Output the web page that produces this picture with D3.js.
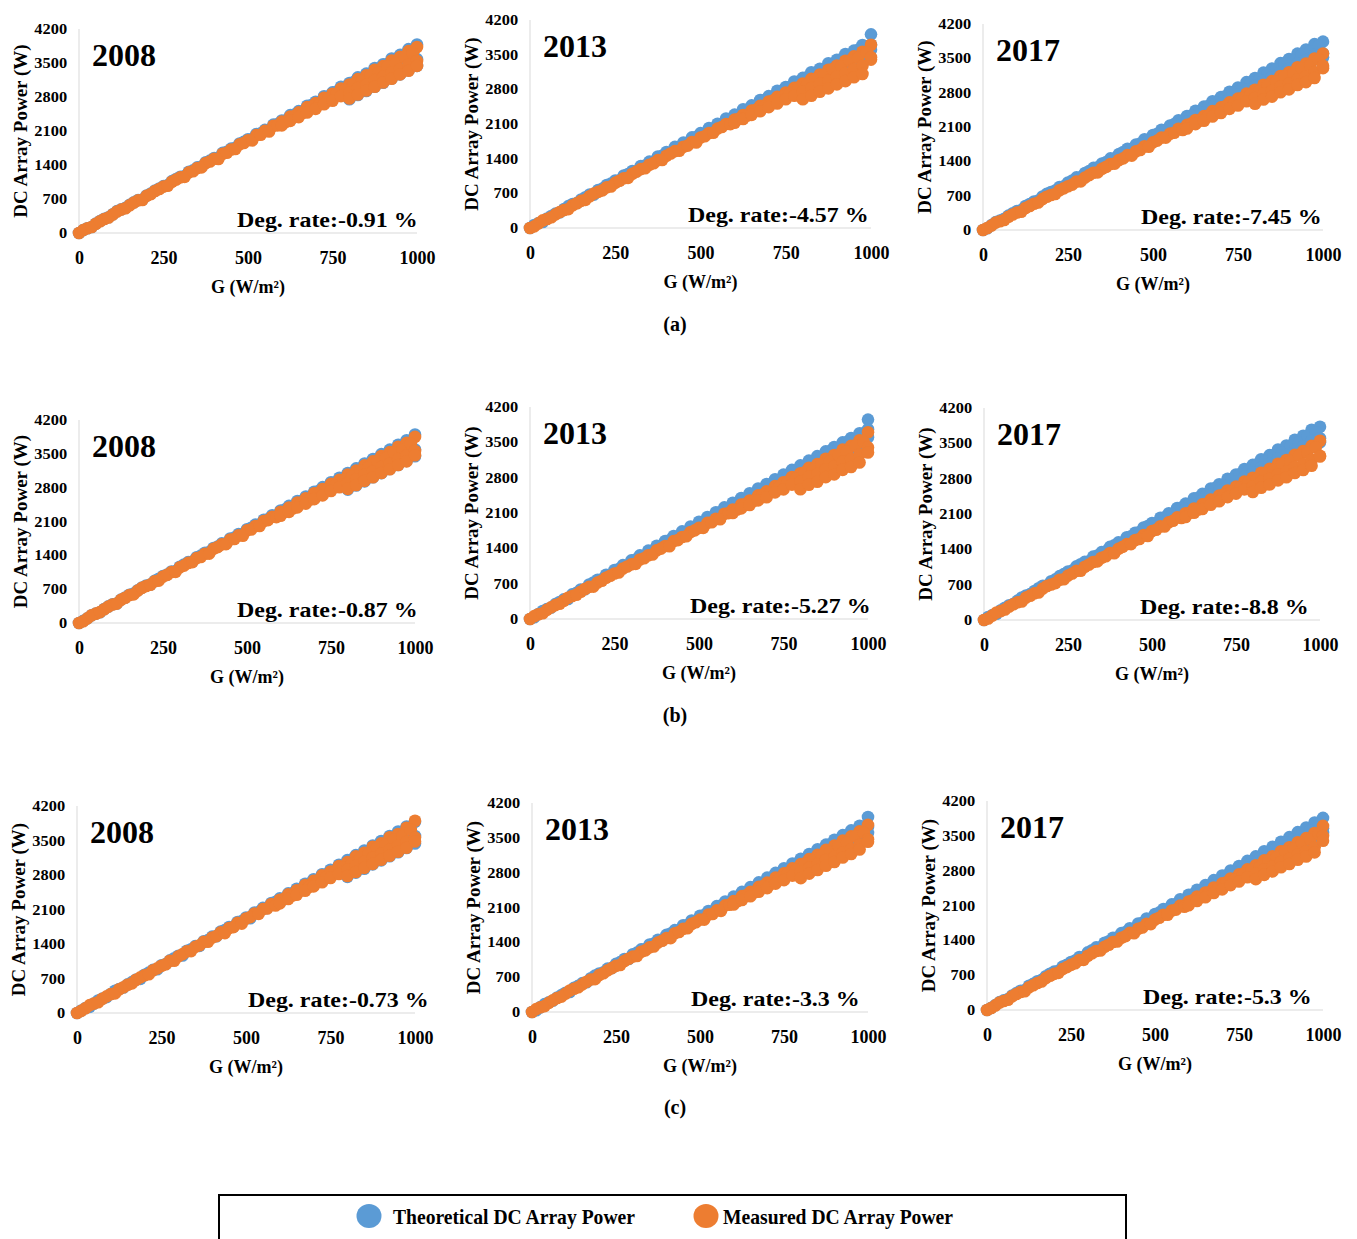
<!DOCTYPE html>
<html>
<head>
<meta charset="utf-8">
<script src="https://cdn.jsdelivr.net/npm/d3@7"></script>
<style>
  body { margin: 0; background: #fff; }
  svg { display: block; }
  text { font-family: "Liberation Serif", "Times New Roman", serif; font-weight: bold; fill: #000; }
</style>
</head>
<body>
<svg id="chart" width="1357" height="1239"></svg>
<script>
// Irradiance samples (W/m²): main sweep, half-step sweep, then the upper-range repeats where the scatter widens
const irradiance = [
  0, 25, 50, 75, 100, 125, 150, 175, 200, 225, 250, 275, 300, 325, 350, 375, 400, 425, 450, 475,
  500, 525, 550, 575, 600, 625, 650, 675, 700, 725, 750, 775, 800, 825, 850, 875, 900, 925, 950, 975, 1000,
  12.5, 37.5, 62.5, 87.5, 112.5, 137.5, 162.5, 187.5, 212.5, 237.5, 262.5, 287.5, 312.5, 337.5, 362.5, 387.5, 412.5, 437.5, 462.5, 487.5,
  512.5, 537.5, 562.5, 587.5, 612.5, 637.5, 662.5, 687.5, 712.5, 737.5, 762.5, 787.5, 812.5, 837.5, 862.5, 887.5, 912.5, 937.5, 962.5, 987.5,
  600, 625, 650, 675, 700, 725, 750, 775, 800, 825, 850, 875, 900, 925, 950, 975, 1000,
  800, 825, 850, 875, 900, 925, 950, 975, 1000
];

const xTicks = [0, 250, 500, 750, 1000];
const yTicks = [0, 700, 1400, 2100, 2800, 3500, 4200];
const years = ["2008", "2013", "2017"];
const groupLabels = ["(a)", "(b)", "(c)"];
const degRates = ["-0.91", "-4.57", "-7.45", "-0.87", "-5.27", "-8.8", "-0.73", "-3.3", "-5.3"];
const seriesNames = ["Theoretical DC Array Power", "Measured DC Array Power"];

// DC array power (W), one value per irradiance sample
const theoA2008 = [0, 99, 193, 292, 386, 486, 579, 680, 772, 874, 966, 1068, 1158, 1262, 1352, 1455, 1545, 1650, 1738, 1843, 1930, 2038, 2124, 2232, 2316, 2426, 2510, 2620, 2702, 2815, 2896, 3010, 3088, 3204, 3282, 3398, 3474, 3592, 3668, 3786, 3880,
  60, 125, 246, 323, 450, 517, 634, 689, 812, 917, 986, 1113, 1172, 1289, 1370, 1491, 1546, 1673, 1754, 1877, 1934, 2051, 2118, 2245, 2322, 2439, 2508, 2635, 2690, 2807, 2912, 2981, 3108, 3175, 3284, 3349, 3478, 3547, 3676, 3749,
  2240, 2328, 2415, 2500, 2587, 2672, 2758, 2840, 2926, 3008, 3093, 3173, 3257, 3337, 3420, 3498, 3580,
  2755, 2840, 2925, 3010, 3095, 3180, 3265, 3350, 3440];
const measA2008 = [0, 97, 190, 289, 381, 481, 572, 672, 764, 865, 955, 1056, 1146, 1248, 1338, 1440, 1529, 1632, 1720, 1824, 1911, 2016, 2102, 2208, 2292, 2400, 2484, 2592, 2674, 2784, 2866, 2976, 3056, 3168, 3246, 3360, 3436, 3552, 3626, 3745, 3830,
  59, 123, 242, 318, 444, 510, 625, 679, 801, 905, 972, 1098, 1156, 1272, 1351, 1471, 1525, 1651, 1730, 1852, 1908, 2024, 2089, 2215, 2291, 2407, 2474, 2600, 2654, 2770, 2873, 2941, 3067, 3133, 3240, 3304, 3432, 3500, 3627, 3699,
  2215, 2308, 2386, 2480, 2555, 2650, 2722, 2818, 2890, 2985, 3055, 3148, 3215, 3310, 3378, 3470, 3540,
  2770, 2850, 2935, 3010, 3100, 3175, 3265, 3340, 3440];

const theoA2013 = [0, 98, 191, 291, 383, 484, 575, 676, 766, 868, 958, 1061, 1150, 1253, 1341, 1445, 1534, 1638, 1725, 1830, 1916, 2020, 2104, 2210, 2290, 2398, 2476, 2585, 2662, 2772, 2846, 2958, 3032, 3144, 3215, 3328, 3398, 3512, 3582, 3696, 3910,
  59, 122, 241, 316, 441, 506, 621, 674, 795, 898, 965, 1090, 1147, 1262, 1341, 1460, 1513, 1638, 1717, 1838, 1893, 2008, 2073, 2198, 2273, 2388, 2455, 2580, 2633, 2748, 2851, 2918, 3043, 3108, 3215, 3278, 3405, 3472, 3599, 3670,
  2170, 2270, 2350, 2455, 2525, 2630, 2700, 2808, 2872, 2980, 3045, 3150, 3215, 3320, 3385, 3490, 3700,
  2730, 2830, 2895, 2995, 3060, 3160, 3225, 3325, 3600];
const measA2013 = [0, 93, 182, 276, 364, 458, 547, 641, 729, 823, 912, 1006, 1094, 1188, 1276, 1371, 1459, 1553, 1641, 1736, 1824, 1918, 2006, 2101, 2188, 2283, 2371, 2466, 2553, 2648, 2736, 2830, 2918, 3012, 3100, 3195, 3282, 3378, 3465, 3560, 3700,
  33, 153, 216, 324, 382, 500, 567, 697, 759, 839, 954, 1012, 1138, 1206, 1309, 1373, 1503, 1561, 1664, 1726, 1854, 1922, 2039, 2097, 2205, 2273, 2388, 2446, 2576, 2644, 2723, 2839, 2897, 3015, 3090, 3210, 3266, 3382, 3437, 3549,
  2125, 2200, 2285, 2358, 2440, 2515, 2600, 2670, 2755, 2825, 2910, 2978, 3060, 3128, 3210, 3275, 3400,
  2600, 2670, 2750, 2820, 2900, 2965, 3045, 3110, 3450];

const theoA2017 = [0, 99, 194, 294, 388, 489, 581, 683, 775, 878, 968, 1072, 1161, 1266, 1355, 1460, 1549, 1655, 1742, 1850, 1936, 2044, 2130, 2238, 2324, 2432, 2518, 2626, 2712, 2820, 2905, 3014, 3098, 3208, 3292, 3402, 3486, 3596, 3680, 3790, 3840,
  36, 161, 230, 343, 406, 529, 602, 737, 804, 889, 1010, 1073, 1204, 1277, 1386, 1455, 1590, 1653, 1762, 1829, 1962, 2035, 2158, 2221, 2334, 2407, 2528, 2591, 2726, 2799, 2884, 3005, 3068, 3191, 3272, 3397, 3458, 3579, 3640, 3757,
  2210, 2310, 2390, 2495, 2575, 2680, 2755, 2860, 2935, 3040, 3115, 3220, 3290, 3395, 3465, 3570, 3600,
  2850, 2950, 3030, 3130, 3210, 3310, 3385, 3480, 3520];
const measA2017 = [0, 91, 178, 271, 356, 450, 535, 630, 714, 809, 892, 988, 1071, 1168, 1250, 1347, 1428, 1526, 1607, 1706, 1786, 1885, 1964, 2064, 2143, 2244, 2322, 2423, 2500, 2602, 2679, 2781, 2858, 2960, 3036, 3140, 3215, 3318, 3394, 3498, 3600,
  40, 150, 203, 317, 371, 489, 562, 678, 734, 848, 925, 991, 1119, 1175, 1288, 1354, 1460, 1516, 1631, 1697, 1823, 1883, 1984, 2040, 2168, 2230, 2331, 2397, 2521, 2577, 2690, 2768, 2828, 2956, 3021, 3137, 3193, 3299, 3360, 3478,
  2070, 2158, 2228, 2315, 2385, 2470, 2538, 2625, 2690, 2775, 2840, 2925, 2988, 3070, 3135, 3218, 3300,
  2575, 2660, 2720, 2808, 2868, 2955, 3015, 3100, 3350];

const theoB2008 = [0, 96, 195, 290, 389, 484, 583, 678, 777, 872, 971, 1066, 1165, 1260, 1359, 1454, 1553, 1648, 1747, 1842, 1941, 2036, 2135, 2230, 2329, 2424, 2523, 2618, 2717, 2812, 2911, 3006, 3105, 3200, 3299, 3394, 3493, 3588, 3687, 3782, 3900,
  44, 161, 222, 343, 404, 529, 610, 733, 796, 917, 1002, 1075, 1210, 1273, 1394, 1467, 1580, 1643, 1766, 1839, 1972, 2039, 2148, 2211, 2346, 2415, 2524, 2597, 2728, 2791, 2912, 2997, 3064, 3199, 3272, 3395, 3458, 3571, 3640, 3765,
  2245, 2330, 2420, 2505, 2590, 2675, 2765, 2845, 2930, 3015, 3100, 3180, 3265, 3345, 3430, 3505, 3590,
  2760, 2845, 2930, 3015, 3100, 3185, 3270, 3355, 3450];
const measB2008 = [0, 95, 193, 286, 384, 478, 576, 669, 767, 861, 959, 1052, 1150, 1243, 1342, 1434, 1534, 1626, 1726, 1816, 1917, 2008, 2110, 2198, 2302, 2390, 2494, 2580, 2686, 2772, 2878, 2962, 3070, 3152, 3262, 3344, 3454, 3536, 3646, 3726, 3850,
  35, 159, 226, 338, 400, 522, 593, 727, 793, 877, 996, 1058, 1188, 1260, 1367, 1435, 1569, 1631, 1738, 1804, 1936, 2008, 2129, 2191, 2303, 2375, 2494, 2556, 2690, 2762, 2845, 2965, 3027, 3149, 3228, 3352, 3412, 3532, 3591, 3707,
  2220, 2300, 2392, 2470, 2562, 2640, 2732, 2808, 2898, 2974, 3066, 3140, 3228, 3300, 3390, 3462, 3560,
  2775, 2855, 2940, 3015, 3105, 3180, 3270, 3345, 3470];

const theoB2013 = [0, 99, 195, 294, 389, 488, 583, 682, 777, 876, 970, 1068, 1162, 1260, 1354, 1452, 1545, 1643, 1736, 1833, 1926, 2022, 2115, 2211, 2303, 2398, 2490, 2585, 2676, 2770, 2860, 2955, 3044, 3138, 3226, 3320, 3406, 3500, 3585, 3680, 3950,
  35, 158, 225, 336, 397, 518, 589, 722, 787, 870, 989, 1050, 1179, 1250, 1357, 1424, 1557, 1618, 1725, 1790, 1921, 1992, 2113, 2174, 2285, 2356, 2475, 2536, 2669, 2740, 2823, 2942, 3003, 3124, 3203, 3326, 3385, 3504, 3563, 3678,
  2200, 2300, 2380, 2480, 2560, 2660, 2740, 2840, 2915, 3010, 3085, 3180, 3250, 3345, 3410, 3500, 3760,
  2740, 2825, 2905, 2990, 3065, 3150, 3225, 3310, 3600];
const measB2013 = [0, 93, 180, 275, 360, 456, 541, 637, 722, 818, 902, 999, 1083, 1180, 1264, 1362, 1445, 1543, 1626, 1724, 1806, 1905, 1987, 2086, 2168, 2268, 2348, 2450, 2528, 2632, 2708, 2812, 2888, 2994, 3068, 3176, 3250, 3356, 3430, 3540, 3700,
  56, 115, 230, 301, 421, 482, 593, 642, 758, 857, 920, 1041, 1093, 1204, 1279, 1394, 1442, 1563, 1638, 1755, 1805, 1916, 1977, 2098, 2168, 2279, 2342, 2463, 2511, 2622, 2721, 2784, 2904, 2965, 3068, 3127, 3249, 3312, 3435, 3502,
  2100, 2192, 2258, 2350, 2412, 2508, 2568, 2662, 2720, 2816, 2872, 2968, 3022, 3116, 3170, 3265, 3400,
  2570, 2660, 2720, 2810, 2865, 2955, 3010, 3100, 3300];

const theoB2017 = [0, 97, 192, 291, 383, 484, 576, 677, 768, 869, 960, 1062, 1152, 1255, 1345, 1448, 1537, 1640, 1730, 1834, 1921, 2026, 2114, 2220, 2306, 2412, 2498, 2605, 2690, 2798, 2882, 2992, 3074, 3184, 3266, 3378, 3458, 3570, 3650, 3770, 3830,
  59, 123, 244, 320, 446, 512, 629, 683, 805, 909, 978, 1104, 1162, 1278, 1359, 1479, 1533, 1659, 1740, 1862, 1918, 2034, 2101, 2227, 2303, 2419, 2488, 2614, 2668, 2784, 2889, 2957, 3083, 3149, 3258, 3322, 3450, 3518, 3647, 3719,
  2200, 2300, 2380, 2480, 2560, 2660, 2740, 2840, 2920, 3020, 3095, 3195, 3270, 3370, 3440, 3545, 3600,
  2840, 2940, 3015, 3115, 3190, 3290, 3360, 3460, 3520];
const measB2017 = [0, 90, 176, 268, 351, 444, 528, 621, 704, 797, 880, 974, 1056, 1150, 1233, 1328, 1409, 1504, 1586, 1681, 1762, 1857, 1938, 2034, 2114, 2210, 2290, 2388, 2466, 2564, 2642, 2741, 2818, 2918, 2994, 3095, 3170, 3272, 3346, 3450, 3550,
  31, 148, 208, 313, 367, 482, 546, 673, 731, 808, 920, 975, 1097, 1162, 1262, 1323, 1449, 1504, 1604, 1663, 1787, 1852, 1966, 2021, 2125, 2190, 2302, 2357, 2483, 2548, 2624, 2737, 2791, 2906, 2978, 3095, 3147, 3260, 3312, 3421,
  2040, 2125, 2198, 2282, 2352, 2435, 2504, 2588, 2650, 2738, 2798, 2886, 2944, 3030, 3090, 3175, 3255,
  2536, 2620, 2684, 2766, 2828, 2912, 2972, 3056, 3240];

const theoC2008 = [0, 98, 193, 292, 387, 486, 580, 681, 775, 874, 968, 1068, 1162, 1263, 1356, 1457, 1550, 1651, 1744, 1845, 1938, 2039, 2132, 2233, 2326, 2427, 2520, 2621, 2714, 2815, 2908, 3009, 3102, 3203, 3296, 3397, 3490, 3591, 3684, 3785, 3880,
  52, 125, 254, 323, 452, 517, 626, 693, 820, 889, 994, 1111, 1166, 1293, 1362, 1479, 1556, 1683, 1750, 1867, 1924, 2047, 2128, 2255, 2310, 2431, 2512, 2629, 2688, 2815, 2884, 2989, 3112, 3167, 3284, 3351, 3478, 3555, 3676, 3741,
  2240, 2332, 2418, 2508, 2588, 2678, 2760, 2848, 2928, 3016, 3096, 3182, 3262, 3348, 3425, 3510, 3590,
  2762, 2848, 2928, 3016, 3096, 3182, 3262, 3348, 3440];
const measC2008 = [0, 97, 191, 289, 383, 482, 574, 674, 766, 866, 958, 1059, 1149, 1251, 1341, 1443, 1533, 1635, 1724, 1828, 1916, 2020, 2107, 2213, 2298, 2406, 2490, 2598, 2680, 2792, 2872, 2984, 3062, 3178, 3252, 3372, 3442, 3566, 3632, 3760, 3900,
  43, 159, 218, 338, 398, 522, 601, 723, 785, 905, 988, 1060, 1194, 1256, 1375, 1447, 1559, 1621, 1742, 1814, 1946, 2012, 2119, 2181, 2315, 2383, 2490, 2562, 2692, 2754, 2873, 2957, 3023, 3157, 3228, 3350, 3412, 3524, 3591, 3715,
  2225, 2312, 2398, 2482, 2570, 2652, 2738, 2820, 2906, 2986, 3072, 3150, 3234, 3312, 3396, 3472, 3560,
  2780, 2862, 2945, 3025, 3110, 3190, 3272, 3352, 3480];

const theoC2013 = [0, 97, 194, 290, 388, 484, 581, 677, 775, 871, 968, 1064, 1162, 1258, 1355, 1451, 1549, 1645, 1742, 1838, 1935, 2030, 2127, 2222, 2318, 2413, 2510, 2604, 2700, 2795, 2890, 2985, 3080, 3175, 3270, 3364, 3460, 3554, 3650, 3742, 3920,
  35, 159, 228, 340, 402, 524, 597, 731, 797, 881, 1002, 1064, 1194, 1266, 1375, 1443, 1577, 1639, 1748, 1814, 1946, 2018, 2141, 2203, 2315, 2387, 2508, 2570, 2704, 2776, 2861, 2981, 3043, 3165, 3246, 3370, 3430, 3550, 3611, 3727,
  2230, 2330, 2410, 2510, 2590, 2690, 2770, 2870, 2940, 3040, 3110, 3210, 3280, 3380, 3450, 3540, 3720,
  2800, 2890, 2975, 3060, 3150, 3235, 3320, 3405, 3600];
const measC2013 = [0, 95, 184, 281, 370, 468, 555, 654, 741, 840, 927, 1026, 1113, 1212, 1299, 1398, 1485, 1584, 1670, 1770, 1856, 1956, 2042, 2142, 2228, 2328, 2414, 2514, 2600, 2700, 2786, 2886, 2972, 3072, 3158, 3258, 3344, 3444, 3530, 3630, 3760,
  58, 119, 236, 309, 433, 496, 609, 660, 780, 881, 946, 1069, 1125, 1238, 1315, 1432, 1484, 1607, 1684, 1803, 1857, 1970, 2033, 2156, 2230, 2343, 2408, 2531, 2583, 2696, 2797, 2862, 2986, 3049, 3154, 3215, 3341, 3406, 3531, 3600,
  2160, 2252, 2326, 2418, 2490, 2580, 2650, 2740, 2810, 2898, 2968, 3054, 3122, 3208, 3275, 3358, 3470,
  2690, 2780, 2855, 2940, 3015, 3105, 3175, 3265, 3420];

const theoC2017 = [0, 98, 193, 292, 386, 486, 579, 679, 772, 872, 965, 1065, 1158, 1258, 1351, 1451, 1544, 1644, 1737, 1838, 1930, 2031, 2123, 2224, 2316, 2417, 2509, 2610, 2702, 2803, 2895, 2996, 3088, 3189, 3281, 3382, 3474, 3575, 3667, 3768, 3860,
  43, 159, 220, 340, 400, 524, 605, 727, 789, 909, 994, 1066, 1200, 1262, 1383, 1455, 1567, 1629, 1752, 1824, 1956, 2022, 2131, 2193, 2327, 2395, 2504, 2576, 2706, 2768, 2889, 2973, 3039, 3173, 3246, 3368, 3430, 3542, 3611, 3735,
  2210, 2310, 2395, 2495, 2580, 2680, 2765, 2865, 2945, 3045, 3125, 3225, 3305, 3405, 3485, 3585, 3650,
  2870, 2965, 3045, 3140, 3220, 3315, 3395, 3490, 3560];
const measC2017 = [0, 92, 181, 275, 362, 458, 544, 640, 726, 822, 907, 1004, 1089, 1186, 1271, 1368, 1453, 1550, 1634, 1732, 1816, 1914, 1998, 2097, 2180, 2279, 2362, 2461, 2544, 2643, 2726, 2825, 2908, 3007, 3090, 3190, 3272, 3372, 3454, 3556, 3700,
  41, 152, 207, 322, 378, 497, 572, 689, 747, 862, 941, 1008, 1138, 1195, 1310, 1377, 1485, 1542, 1659, 1726, 1854, 1915, 2018, 2075, 2205, 2268, 2371, 2438, 2564, 2621, 2736, 2815, 2877, 3006, 3073, 3190, 3248, 3355, 3418, 3537,
  2105, 2190, 2266, 2352, 2425, 2510, 2583, 2668, 2735, 2822, 2888, 2975, 3040, 3120, 3190, 3270, 3500,
  2630, 2715, 2785, 2868, 2935, 3018, 3085, 3168, 3400];

const theoSeries = [theoA2008, theoA2013, theoA2017, theoB2008, theoB2013, theoB2017, theoC2008, theoC2013, theoC2017];
const measSeries = [measA2008, measA2013, measA2017, measB2008, measB2013, measB2017, measC2008, measC2013, measC2017];

const colors = { theo: "#5b9bd5", meas: "#ed7d31" };
const dotRadius = 6.3;

// Plot frames: left/right x of the G axis, y of the 0 and 4200 W gridline, offset of the rate note
const layout = [
  { xl: 79,  xr: 417,  y0: 233,  yt: 29,  rateDx: 158 },
  { xl: 530, xr: 871,  y0: 228,  yt: 20,  rateDx: 158 },
  { xl: 983, xr: 1323, y0: 230,  yt: 24,  rateDx: 158 },
  { xl: 79,  xr: 415,  y0: 623,  yt: 420, rateDx: 158 },
  { xl: 530, xr: 868,  y0: 619,  yt: 407, rateDx: 160 },
  { xl: 984, xr: 1320, y0: 620,  yt: 408, rateDx: 156 },
  { xl: 77,  xr: 415,  y0: 1013, yt: 806, rateDx: 171 },
  { xl: 532, xr: 868,  y0: 1012, yt: 803, rateDx: 159 },
  { xl: 987, xr: 1323, y0: 1010, yt: 801, rateDx: 156 }
];
const groupLabelY = [331, 722, 1114];

const svg = d3.select("#chart");
svg.append("rect").attr("width", 1357).attr("height", 1239).attr("fill", "#fff");

layout.forEach((L, i) => {
  const x = d3.scaleLinear().domain([0, 1000]).range([L.xl, L.xr]);
  const y = d3.scaleLinear().domain([0, 4200]).range([L.y0, L.yt]);
  const g = svg.append("g").attr("class", "panel");

  // light frame: vertical value axis and the zero baseline
  g.append("line")
    .attr("x1", x(0)).attr("x2", x(0)).attr("y1", y(4200)).attr("y2", y(0))
    .attr("stroke", "#d9d9d9").attr("stroke-width", 1);
  g.append("line")
    .attr("x1", x(0)).attr("x2", x(1000)).attr("y1", y(0)).attr("y2", y(0))
    .attr("stroke", "#d9d9d9").attr("stroke-width", 1);

  // y tick labels
  const yAxis = g.append("g")
    .attr("transform", `translate(${x(0)},0)`)
    .call(d3.axisLeft(y).tickValues(yTicks).tickFormat(d3.format("d")).tickSize(0).tickPadding(10.5));
  yAxis.select(".domain").remove();
  yAxis.attr("font-family", null);
  yAxis.selectAll("text")
    .style("font-size", "14.5px")
    .attr("transform", "scale(1.13,1)");

  // x tick labels
  const xAxis = g.append("g")
    .attr("transform", `translate(0,${y(0)})`)
    .call(d3.axisBottom(x).tickValues(xTicks).tickFormat(d3.format("d")).tickSize(0).tickPadding(18));
  xAxis.select(".domain").remove();
  xAxis.attr("font-family", null);
  xAxis.selectAll("text").style("font-size", "18px");

  // scatter: theoretical first, measured drawn on top
  const pts = (vals) => irradiance.map((gv, k) => [gv, vals[k]]);
  g.append("g").selectAll("circle")
    .data(pts(theoSeries[i])).join("circle")
    .attr("cx", d => x(d[0])).attr("cy", d => y(d[1]))
    .attr("r", dotRadius).attr("fill", colors.theo);
  g.append("g").selectAll("circle")
    .data(pts(measSeries[i])).join("circle")
    .attr("cx", d => x(d[0])).attr("cy", d => y(d[1]))
    .attr("r", dotRadius).attr("fill", colors.meas);

  // axis titles
  g.append("text")
    .attr("transform", `translate(${x(0) - 59},${(y(0) + y(4200)) / 2}) rotate(-90)`)
    .attr("text-anchor", "middle").attr("dy", "0.35em")
    .style("font-size", "19px")
    .text("DC Array Power (W)");
  g.append("text")
    .attr("x", x(500)).attr("y", y(0) + 60)
    .attr("text-anchor", "middle")
    .style("font-size", "18px")
    .text("G (W/m²)");

  // year and degradation rate notes
  g.append("text")
    .attr("x", x(0) + 13).attr("y", y(4200) + 37)
    .style("font-size", "32px")
    .text(years[i % 3]);
  g.append("text")
    .attr("transform", `translate(${x(0) + L.rateDx},${y(0) - 6}) scale(1.14,1)`)
    .style("font-size", "21px")
    .text(`Deg. rate:${degRates[i]} %`);
});

// row captions
groupLabels.forEach((lab, r) => {
  svg.append("text")
    .attr("x", 675).attr("y", groupLabelY[r])
    .attr("text-anchor", "middle")
    .style("font-size", "20px")
    .text(lab);
});

// legend
const legend = svg.append("g");
legend.append("rect")
  .attr("x", 219).attr("y", 1195).attr("width", 907).attr("height", 70)
  .attr("fill", "none").attr("stroke", "#000").attr("stroke-width", 2);
const legendItems = [
  { name: seriesNames[0], color: colors.theo, cx: 369, tx: 393, w: 242 },
  { name: seriesNames[1], color: colors.meas, cx: 706, tx: 723, w: 230 }
];
legendItems.forEach(it => {
  legend.append("ellipse")
    .attr("cx", it.cx).attr("cy", 1216).attr("rx", 12.5).attr("ry", 12)
    .attr("fill", it.color);
  legend.append("text")
    .attr("x", it.tx).attr("y", 1224)
    .attr("textLength", it.w).attr("lengthAdjust", "spacingAndGlyphs")
    .style("font-size", "22px")
    .text(it.name);
});
</script>
</body>
</html>
